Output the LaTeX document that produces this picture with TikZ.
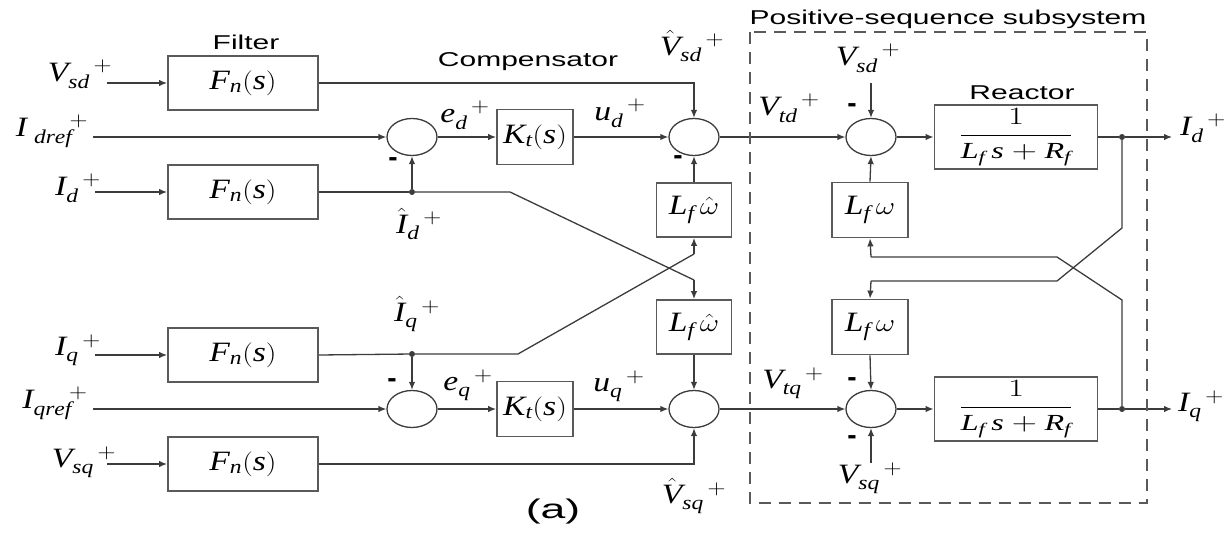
\documentclass[tikz,border=0pt]{standalone}
\usepackage{graphicx}
\usepackage{fontspec}
\setmainfont{Liberation Serif}
\newfontfamily\sansf{Liberation Sans}
\usetikzlibrary{shapes.geometric,arrows.meta,calc}
\definecolor{lc}{HTML}{3C3C3C}
\definecolor{bc}{HTML}{5A5A5A}
\newcommand{\I}[1]{\mathit{#1}}
\newcommand{\sx}[1]{\scalebox{1.2}[1]{#1}}
\newcommand{\sg}[2]{$#1_{\I{#2}}^{\hphantom{\I{#2}}\,+}$}
\begin{document}
\begin{tikzpicture}[x=1pt,y=-1pt,
  ln/.style={draw=lc,line width=1.3pt},
  arr/.style={draw=lc,line width=1.3pt,-{Latex[length=8pt,width=6.5pt]}},
  blk/.style={draw=bc,line width=1.8pt,rectangle,inner sep=0pt,font=\fontsize{28}{32}\selectfont},
  sumj/.style={draw=lc,line width=1.3pt,ellipse,minimum width=50pt,minimum height=37pt,inner sep=0pt},
  lab/.style={font=\fontsize{28}{32}\selectfont,xscale=1.2,inner sep=0pt},
  ttl/.style={font=\sansf\fontsize{20}{24}\selectfont,xscale=1.5,inner sep=0pt},
  jdot/.style={circle,fill=lc,inner sep=0pt,minimum size=6pt},
  mn/.style={font=\sansf\bfseries\fontsize{28}{28}\selectfont,inner sep=0pt},
  dbox/.style={draw=bc,line width=1.8pt,dash pattern=on 12pt off 8pt}
]
\useasboundingbox (0,0) rectangle (1228,535);

% ---------------- blocks ----------------
\node[blk,minimum width=150pt,minimum height=54pt] (F1) at (243,83)  {\sx{$\I{F}_{\I{n}}(\I{s})$}};
\node[blk,minimum width=150pt,minimum height=54pt] (F2) at (243,192) {\sx{$\I{F}_{\I{n}}(\I{s})$}};
\node[blk,minimum width=150pt,minimum height=54pt] (F3) at (243,355) {\sx{$\I{F}_{\I{n}}(\I{s})$}};
\node[blk,minimum width=150pt,minimum height=54pt] (F4) at (243,464) {\sx{$\I{F}_{\I{n}}(\I{s})$}};

\node[blk,minimum width=76pt,minimum height=55pt] (K1) at (535,137) {\sx{$\I{K}_{\I{t}}(\I{s})$}};
\node[blk,minimum width=76pt,minimum height=55pt] (K2) at (535,409) {\sx{$\I{K}_{\I{t}}(\I{s})$}};

\node[blk,minimum width=75pt,minimum height=54pt] (W1) at (694,210) {\sx{$\I{L}_{\I{f}}\,\hat{\omega}$}};
\node[blk,minimum width=75pt,minimum height=54pt] (W2) at (694,327) {\sx{$\I{L}_{\I{f}}\,\hat{\omega}$}};

\node[blk,minimum width=76pt,minimum height=55pt] (R1w) at (870,210) {\sx{$\I{L}_{\I{f}}\,\omega$}};
\node[blk,minimum width=76pt,minimum height=55pt] (R2w) at (870,327) {\sx{$\I{L}_{\I{f}}\,\omega$}};

\node[blk,minimum width=163pt,minimum height=64pt,font=\fontsize{23}{26}\selectfont] (P1) at (1016,137)
  {\scalebox{1.4}[1]{$\displaystyle\frac{1}{\I{L}_{\I{f}}\,\I{s}+\I{R}_{\I{f}}}$}};
\node[blk,minimum width=163pt,minimum height=64pt,font=\fontsize{23}{26}\selectfont] (P2) at (1016,409)
  {\scalebox{1.4}[1]{$\displaystyle\frac{1}{\I{L}_{\I{f}}\,\I{s}+\I{R}_{\I{f}}}$}};

% ---------------- summing junctions ----------------
\node[sumj] (S1) at (412,137) {};
\node[sumj] (S2) at (694,137) {};
\node[sumj] (S3) at (871,137) {};
\node[sumj] (Q1) at (412,409) {};
\node[sumj] (Q2) at (694,409) {};
\node[sumj] (Q3) at (871,409) {};

% ---------------- junction dots ----------------
\node[jdot] (D1) at (412,192) {};
\node[jdot] (D2) at (412,354) {};
\node[jdot] (D3) at (1122,137) {};
\node[jdot] (D4) at (1122,409) {};

% ---------------- free ends and bends ----------------
\coordinate (vsdin) at (107,83);
\coordinate (idrefin) at (93,137);
\coordinate (idin) at (95,192);
\coordinate (iqin) at (95,355);
\coordinate (iqrefin) at (93,409);
\coordinate (vsqin) at (107,464);
\coordinate (vsdr) at (871,83);
\coordinate (vsqr) at (871,463);
\coordinate (idout) at (1172,137);
\coordinate (iqout) at (1172,409);
\coordinate (b1) at (510,192);
\coordinate (b2) at (694,280);
\coordinate (b3) at (518,354);
\coordinate (b4) at (694,254);
\coordinate (c1) at (1122,228);
\coordinate (c2) at (1057,281);
\coordinate (c3) at (871,281);
\coordinate (c4) at (1122,300);
\coordinate (c5) at (1057,257);
\coordinate (c6) at (871,257);

% ---------------- connectors: d axis ----------------
\draw[arr] (vsdin) -- (F1.west);
\draw[arr] (F1.east) -| (S2.north);
\draw[arr] (idrefin) -- (S1.west);
\draw[arr] (idin) -- (F2.west);
\draw[ln] (F2.east) -- (D1);
\draw[arr] (D1) -- (S1.south);
\draw[arr] (S1.east) -- (K1.west);
\draw[arr] (K1.east) -- (S2.west);
\draw[arr] (W1.north) -- (S2.south);
\draw[arr] (S2.east) -- (S3.west);
\draw[arr] (vsdr) -- (S3.north);
\draw[arr] (R1w.north) -- (S3.south);
\draw[arr] (S3.east) -- (P1.west);
\draw[ln] (P1.east) -- (D3);
\draw[arr] (D3) -- (idout);

% cross couplings (compensator)
\draw[ln] (D1) -- (b1) -- (b2);
\draw[arr] (b2) -- (W2.north);
\draw[ln] (D2) -- (b3) -- (b4);
\draw[arr] (b4) -- (W1.south);

% cross couplings (reactor)
\draw[ln] (D3) -- (c1) -- (c2) -- (c3);
\draw[arr] (c3) -- (R2w.north);
\draw[ln] (D4) -- (c4) -- (c5) -- (c6);
\draw[arr] (c6) -- (R1w.south);

% ---------------- connectors: q axis ----------------
\draw[arr] (iqin) -- (F3.west);
\draw[ln] (F3.east) -- (D2);
\draw[arr] (D2) -- (Q1.north);
\draw[arr] (iqrefin) -- (Q1.west);
\draw[arr] (vsqin) -- (F4.west);
\draw[arr] (Q1.east) -- (K2.west);
\draw[arr] (K2.east) -- (Q2.west);
\draw[arr] (W2.south) -- (Q2.north);
\draw[arr] (F4.east) -| (Q2.south);
\draw[arr] (Q2.east) -- (Q3.west);
\draw[arr] (R2w.south) -- (Q3.north);
\draw[arr] (vsqr) -- (Q3.south);
\draw[arr] (Q3.east) -- (P2.west);
\draw[ln] (P2.east) -- (D4);
\draw[arr] (D4) -- (iqout);

% ---------------- dashed subsystem box ----------------
\draw[dbox] (750,32) rectangle (1147,503);

% ---------------- titles ----------------
\node[ttl] (tfil) at (246,42) {Filter};
\node[ttl] (tcomp) at (528,62) {Compensator};
\node[ttl] (treac) at (1022,93) {Reactor};
\node[ttl,fill=white,inner sep=2pt] (tpos) at (948,19) {Positive-sequence subsystem};
\node[ttl,font=\sansf\fontsize{27}{30}\selectfont,xscale=1.1] (ta) at (553,512) {(a)};

% ---------------- signal labels ----------------
\node[lab] (lvsd) at (80,74) {\sg{\I{V}}{sd}};
\node[lab] (lidref) at (52,131) {$\I{I}_{\;\I{dref}}^{\hphantom{\;\I{dre}}\,+}$};
\node[lab] (lid) at (78,188) {\sg{\I{I}}{d}};
\node[lab] (liq) at (78,350) {\sg{\I{I}}{q}};
\node[lab] (liqref) at (55,403) {$\I{I}_{\I{qref}}^{\hphantom{\I{qre}}\,+}$};
\node[lab] (lvsq) at (84,462) {\sg{\I{V}}{sq}};

\node[lab] (lhid) at (419,224) {\sg{\hat{\I{I}}}{d}};
\node[lab] (lhiq) at (417,314) {\sg{\hat{\I{I}}}{q}};
\node[lab] (led) at (465,115) {\sg{\I{e}}{d}};
\node[lab] (lud) at (620,113) {\sg{\I{u}}{d}};
\node[lab] (leq) at (468,385) {\sg{\I{e}}{q}};
\node[lab] (luq) at (619,386) {\sg{\I{u}}{q}};
\node[lab] (lhvsd) at (692,46) {\sg{\hat{\I{V}}}{sd}};
\node[lab] (lhvsq) at (694,496) {\sg{\hat{\I{V}}}{sq}};
\node[lab] (lvtd) at (789,108) {\sg{\I{V}}{td}};
\node[lab] (lvtq) at (793,383) {\sg{\I{V}}{tq}};
\node[lab] (lvsdr) at (868,58) {\sg{\I{V}}{sd}};
\node[lab] (lvsqr) at (870,478) {\sg{\I{V}}{sq}};
\node[lab] (lido) at (1203,128) {\sg{\I{I}}{d}};
\node[lab] (liqo) at (1201,406) {\sg{\I{I}}{q}};

% ---------------- minus signs ----------------
\node[mn] (m1) at (393,162) {-};
\node[mn] (m2) at (678,160) {-};
\node[mn] (m3) at (852,108) {-};
\node[mn] (m4) at (392,383) {-};
\node[mn] (m5) at (852,382) {-};
\node[mn] (m6) at (852,440) {-};
\end{tikzpicture}
\end{document}
